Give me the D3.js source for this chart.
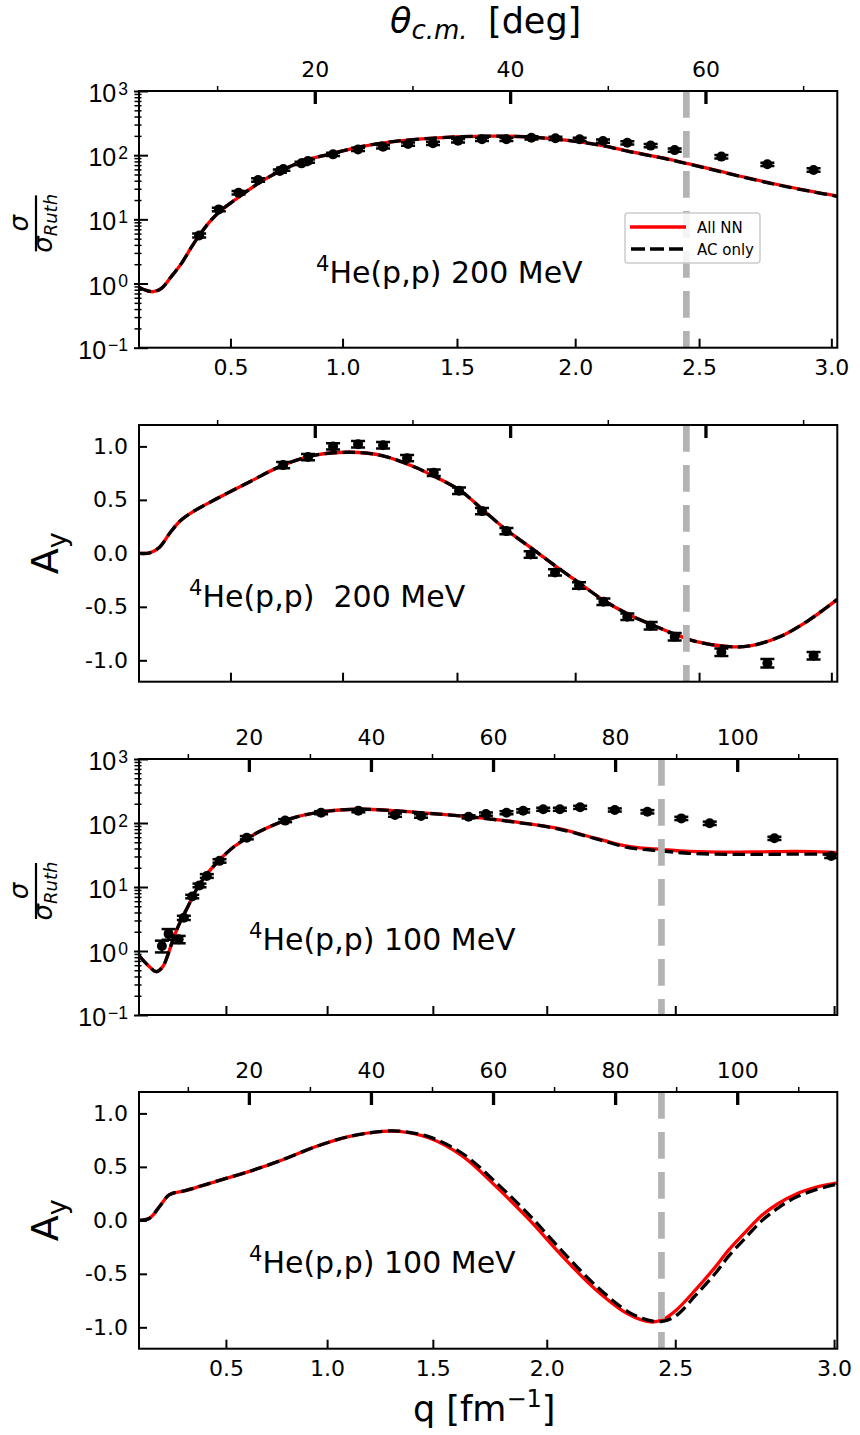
<!DOCTYPE html>
<html>
<head>
<meta charset="utf-8">
<script src="https://cdn.jsdelivr.net/npm/d3@7"></script>
<style>
  body { margin: 0; background: #fff; }
  svg { display: block; font-family: "DejaVu Sans", sans-serif; }
</style>
</head>
<body>
<svg id="chart" width="860" height="1435"></svg>
<script>
// Kinematics: q = 2k sin(theta/2), 2k in fm^-1
const twoK200 = 5.05;
const twoK100 = 3.54;
const qMarker = 2.45;

// Tick values
const qTicks = [0.5, 1.0, 1.5, 2.0, 2.5, 3.0];
const thetaMajor200 = [20, 40, 60];
const thetaMinor200 = [10, 30, 50, 70];
const thetaMajor100 = [20, 40, 60, 80, 100];
const thetaMinor100 = [10, 30, 50, 70, 90, 110];
const logTicks = [0.1, 1, 10, 100, 1000];
const ayTicks = [-1.0, -0.5, 0.0, 0.5, 1.0];

// 200 MeV cross section, theory [theta_cm (deg), sigma/sigma_Ruth]
const xs200AllNN = [
  [2.0, 0.86], [2.9, 0.77], [3.45, 0.745], [4.3, 0.84], [5.3, 1.28], [6.35, 2.06],
  [7.4, 3.75], [8.2, 5.7], [9.25, 9.2], [10.45, 14.0], [11.8, 20.0], [13.2, 28.6],
  [14.5, 38.6], [16.4, 56], [19.15, 84], [21.9, 107], [24.6, 135], [28.0, 163],
  [31.8, 183], [35.0, 194], [38.6, 198], [42.0, 192], [44.5, 180], [46.8, 164],
  [49.5, 141], [52.2, 115], [55.65, 90.4], [58.2, 73.8], [60.8, 59.5], [64.2, 44.6],
  [67.6, 34.3], [71.0, 27.0], [73.5, 23.1]
];
const xs200ACOnly = [
  [2.0, 0.86], [2.9, 0.77], [3.45, 0.745], [4.3, 0.84], [5.3, 1.28], [6.35, 2.06],
  [7.4, 3.75], [8.2, 5.7], [9.25, 9.2], [10.45, 14.0], [11.8, 20.0], [13.2, 28.6],
  [14.5, 38.6], [16.4, 56], [19.15, 84], [21.9, 107], [24.6, 135], [28.0, 163],
  [31.8, 183], [35.0, 194], [38.6, 198], [42.0, 192], [44.5, 179], [46.8, 163],
  [49.5, 140], [52.2, 114], [55.65, 89.6], [58.2, 73.2], [60.8, 59.0], [64.2, 44.2],
  [67.6, 34.0], [71.0, 26.8], [73.5, 22.9]
];
// 200 MeV cross section, data [theta_cm, value, error]
const xs200Data = [
  [8.16, 5.6, 0.4], [10.17, 14.3, 0.9], [12.19, 26, 1.6], [14.2, 41, 2.5],
  [16.42, 56.6, 3.4], [16.78, 60.8, 3.6], [18.64, 74.6, 4.5], [19.3, 81, 4.9],
  [21.87, 103, 6], [24.43, 123, 7], [26.99, 135, 8], [29.55, 149, 9],
  [32.1, 153, 9], [34.67, 168, 10], [37.12, 177, 10], [39.62, 177, 10],
  [42.18, 187, 11], [44.64, 183, 11], [47.12, 177, 10], [49.51, 166, 10],
  [52.0, 156, 9], [54.39, 141, 8], [56.85, 120, 7], [61.63, 95, 6],
  [66.34, 72, 4], [71.07, 58.8, 3.5]
];

// 200 MeV analyzing power, theory [theta_cm, A_y]
const ay200AllNN = [
  [2.0, 0.0], [3.11, 0.005], [4.13, 0.06], [5.16, 0.19], [6.18, 0.30], [7.54, 0.39],
  [9.94, 0.51], [13.35, 0.67], [16.76, 0.825], [20.17, 0.92], [23.58, 0.945],
  [26.99, 0.912], [30.41, 0.80], [31.77, 0.74], [34.85, 0.59], [37.23, 0.405],
  [39.63, 0.218], [42.01, 0.06], [44.75, -0.125], [47.13, -0.28], [49.52, -0.436],
  [52.25, -0.577], [54.3, -0.66], [56.85, -0.754], [59.08, -0.826], [62.48, -0.873],
  [64.53, -0.866], [67.6, -0.78], [70.34, -0.64], [73.5, -0.43]
];
const ay200ACOnly = [
  [2.0, 0.0], [3.11, 0.005], [4.13, 0.06], [5.16, 0.19], [6.18, 0.30], [7.54, 0.39],
  [9.94, 0.51], [13.35, 0.67], [16.76, 0.825], [20.17, 0.92], [23.58, 0.945],
  [26.99, 0.912], [30.41, 0.80], [31.77, 0.74], [34.85, 0.59], [37.23, 0.405],
  [39.63, 0.218], [42.01, 0.06], [44.75, -0.125], [47.13, -0.28], [49.52, -0.436],
  [52.25, -0.577], [54.3, -0.66], [56.85, -0.754], [59.08, -0.826], [62.48, -0.873],
  [64.53, -0.866], [67.6, -0.78], [70.34, -0.64], [73.5, -0.43]
];
// 200 MeV analyzing power, data [theta_cm, A_y, error]
const ay200Data = [
  [16.76, 0.825, 0.03], [19.31, 0.90, 0.03], [21.87, 1.0, 0.03], [24.43, 1.02, 0.03],
  [26.99, 1.01, 0.03], [29.45, 0.89, 0.03], [32.18, 0.753, 0.03], [34.77, 0.585, 0.03],
  [37.12, 0.395, 0.03], [39.62, 0.208, 0.03], [42.1, -0.01, 0.03], [44.6, -0.178, 0.03],
  [47.05, -0.30, 0.03], [49.55, -0.452, 0.03], [52.0, -0.592, 0.03], [54.39, -0.676, 0.035],
  [56.85, -0.78, 0.035], [61.63, -0.925, 0.035], [66.34, -1.028, 0.04], [71.07, -0.957, 0.035]
];

// 100 MeV cross section, theory [theta_cm, sigma/sigma_Ruth]
const xs100AllNN = [
  [2.0, 0.85], [3.45, 0.60], [4.83, 0.475], [5.9, 0.57], [6.73, 0.87], [7.55, 1.49],
  [8.64, 2.7], [10.0, 4.92], [11.37, 8.98], [13.0, 15.4], [14.9, 24.8], [16.3, 33.6],
  [17.6, 43], [20.1, 61], [26.1, 111], [32.1, 150], [38.1, 164], [43.6, 156],
  [49.6, 141], [56.2, 125], [63.3, 105], [70.4, 83], [76.9, 57.6], [82.4, 42.6],
  [87.8, 38.5], [92.2, 36.0], [98.8, 35.0], [104.2, 35.5], [109.7, 36.0], [115.1, 35.0],
  [116.4, 34.5]
];
const xs100ACOnly = [
  [2.0, 0.85], [3.45, 0.60], [4.83, 0.475], [5.9, 0.57], [6.73, 0.87], [7.55, 1.49],
  [8.64, 2.7], [10.0, 4.92], [11.37, 8.98], [13.0, 15.4], [14.9, 24.8], [16.3, 33.6],
  [17.6, 43], [20.1, 61], [26.1, 111], [32.1, 150], [38.1, 164], [43.6, 156],
  [49.6, 141], [56.2, 125], [63.3, 104], [70.4, 82], [76.9, 56.5], [82.4, 41.0],
  [87.8, 36.5], [92.2, 33.6], [98.8, 32.4], [104.2, 32.4], [109.7, 32.6], [115.1, 32.4],
  [116.4, 32.0]
];
// 100 MeV cross section, data [theta_cm, value, error]
const xs100Data = [
  [5.75, 1.2, 0.25], [6.85, 1.85, 0.35], [8.5, 1.52, 0.2], [9.35, 3.3, 0.25],
  [10.72, 7.1, 0.45], [11.91, 10.6, 0.7], [13.11, 14.9, 1.0], [15.19, 25.6, 1.6],
  [19.66, 59, 3.5], [25.94, 109, 6], [31.83, 145, 8], [37.94, 156, 9],
  [43.94, 133, 8], [48.2, 129, 8], [55.99, 125, 7], [58.84, 138, 8],
  [62.21, 145, 8], [64.94, 155, 9], [68.22, 164, 9], [70.95, 164, 9],
  [74.27, 176, 10], [79.95, 160, 9], [85.29, 150, 9], [90.85, 118, 7],
  [95.5, 99, 6], [106.1, 57.6, 3.5], [115.4, 30.5, 2]
];

// 100 MeV analyzing power, theory [theta_cm, A_y]
const ay100AllNN = [
  [2.0, 0.0], [3.73, 0.02], [5.37, 0.13], [7.0, 0.24], [9.74, 0.28], [14.65, 0.365],
  [20.1, 0.458], [25.55, 0.567], [31.0, 0.69], [36.47, 0.785], [41.9, 0.832],
  [44.65, 0.832], [49.56, 0.77], [55.0, 0.6], [60.47, 0.318], [65.92, 0.006],
  [71.37, -0.336], [76.84, -0.648], [82.29, -0.881], [85.8, -0.95], [87.74, -0.93],
  [90.0, -0.84], [93.2, -0.648], [96.5, -0.43], [98.66, -0.274], [101.5, -0.10],
  [104.1, 0.05], [106.8, 0.16], [109.6, 0.245], [113.0, 0.31], [116.4, 0.35]
];
const ay100ACOnly = [
  [2.0, 0.0], [3.73, 0.02], [5.37, 0.13], [7.0, 0.24], [9.74, 0.28], [14.65, 0.365],
  [20.1, 0.458], [25.55, 0.567], [31.0, 0.69], [36.47, 0.785], [41.9, 0.832],
  [44.65, 0.834], [49.56, 0.78], [55.0, 0.625], [60.47, 0.355], [65.92, 0.05],
  [71.37, -0.29], [76.84, -0.61], [82.29, -0.86], [85.56, -0.935], [87.74, -0.945],
  [90.0, -0.89], [93.2, -0.70], [96.5, -0.49], [98.66, -0.33], [101.5, -0.155],
  [104.1, 0.0], [106.8, 0.12], [109.6, 0.215], [113.0, 0.29], [116.4, 0.34]
];

const seriesNames = ["All NN", "AC only"];
const reactionLabels = ["200 MeV", "100 MeV"];

// ---------------------------------------------------------------
const svg = d3.select("#chart");
const left = 139, right = 837.3;
const qToTheta = (q, twoK) => 2 * Math.asin(q / twoK) * 180 / Math.PI;

const panels = [
  { top: 91, bottom: 347.7, twoK: twoK200, thetaDomain: [2, 73.5], major: thetaMajor200, minor: thetaMinor200,
    log: true, topLabels: true, bottomLabels: true,
    curves: [xs200AllNN, xs200ACOnly], data: xs200Data,
    text: { x: 316, y: 283, energy: reactionLabels[0], gap: " " }, legend: true },
  { top: 425, bottom: 681.7, twoK: twoK200, thetaDomain: [2, 73.5], major: thetaMajor200, minor: thetaMinor200,
    log: false, topLabels: false, bottomLabels: false,
    curves: [ay200AllNN, ay200ACOnly], data: ay200Data,
    text: { x: 189, y: 607, energy: reactionLabels[0], gap: "\u00a0\u00a0" } },
  { top: 759, bottom: 1015, twoK: twoK100, thetaDomain: [2, 116.4], major: thetaMajor100, minor: thetaMinor100,
    log: true, topLabels: true, bottomLabels: false,
    curves: [xs100AllNN, xs100ACOnly], data: xs100Data,
    text: { x: 249, y: 950, energy: reactionLabels[1], gap: " " } },
  { top: 1092, bottom: 1348.7, twoK: twoK100, thetaDomain: [2, 116.4], major: thetaMajor100, minor: thetaMinor100,
    log: false, topLabels: true, bottomLabels: true,
    curves: [ay100AllNN, ay100ACOnly], data: null,
    text: { x: 249, y: 1273, energy: reactionLabels[1], gap: " " } }
];

const tickFont = 22;

panels.forEach((p, i) => {
  const x = d3.scaleLinear().domain(p.thetaDomain).range([left, right]);
  const y = p.log
    ? d3.scaleLog().domain([0.1, 1000]).range([p.bottom, p.top])
    : d3.scaleLinear().domain([-1.2, 1.2]).range([p.bottom, p.top]);

  const g = svg.append("g");
  const clipId = "clip" + i;
  svg.append("clipPath").attr("id", clipId).append("rect")
    .attr("x", left).attr("y", p.top).attr("width", right - left).attr("height", p.bottom - p.top);

  // theory curves
  const line = d3.line().x(d => x(d[0])).y(d => y(d[1])).curve(d3.curveCatmullRom.alpha(0.5));
  const plot = g.append("g").attr("clip-path", `url(#${clipId})`);
  plot.append("path").datum(p.curves[0]).attr("d", line)
    .attr("fill", "none").attr("stroke", "#ff0000").attr("stroke-width", 3.3);
  plot.append("path").datum(p.curves[1]).attr("d", line)
    .attr("fill", "none").attr("stroke", "#000").attr("stroke-width", 3.3)
    .attr("stroke-dasharray", "12.5,5.5");

  // q = 2.45 fm^-1 marker
  const xm = x(qToTheta(qMarker, p.twoK));
  plot.append("line").attr("x1", xm).attr("x2", xm).attr("y1", p.top).attr("y2", p.bottom)
    .attr("stroke", "#b3b3b3").attr("stroke-width", 6.7).attr("stroke-dasharray", "26.7,13.3");

  // data with error bars
  if (p.data) {
    const pts = plot.append("g").selectAll("g").data(p.data).join("g");
    pts.append("line").attr("x1", d => x(d[0])).attr("x2", d => x(d[0]))
      .attr("y1", d => y(d[1] - d[2])).attr("y2", d => y(d[1] + d[2]))
      .attr("stroke", "#000").attr("stroke-width", 2.5);
    [-1, 1].forEach(s => {
      pts.append("line").attr("x1", d => x(d[0]) - 7).attr("x2", d => x(d[0]) + 7)
        .attr("y1", d => y(d[1] + s * d[2])).attr("y2", d => y(d[1] + s * d[2]))
        .attr("stroke", "#000").attr("stroke-width", 2.5);
    });
    pts.append("circle").attr("cx", d => x(d[0])).attr("cy", d => y(d[1])).attr("r", 5).attr("fill", "#000");
  }

  // bottom q axis (inward ticks)
  const qAxis = d3.axisBottom(x)
    .tickValues(qTicks.map(q => qToTheta(q, p.twoK)))
    .tickFormat(t => p.bottomLabels ? (p.twoK * Math.sin(t * Math.PI / 360)).toFixed(1) : "")
    .tickSize(-9).tickPadding(12);
  const gb = g.append("g").attr("transform", `translate(0,${p.bottom})`).call(qAxis);
  gb.select(".domain").remove();
  gb.selectAll(".tick line").attr("stroke-width", 2);
  gb.selectAll("text").attr("font-size", tickFont).attr("fill", "#000").attr("font-family", "DejaVu Sans");

  // top theta axis: thick inward major ticks, thin outward minor ticks
  const tMajor = d3.axisTop(x).tickValues(p.major)
    .tickFormat(d => p.topLabels ? d : "").tickSize(-13).tickPadding(14);
  const gt = g.append("g").attr("transform", `translate(0,${p.top})`).call(tMajor);
  gt.select(".domain").remove();
  gt.selectAll(".tick line").attr("stroke-width", 3.3);
  gt.selectAll("text").attr("font-size", tickFont).attr("fill", "#000").attr("font-family", "DejaVu Sans");
  const tMinor = d3.axisTop(x).tickValues(p.minor).tickFormat("").tickSize(5);
  const gtm = g.append("g").attr("transform", `translate(0,${p.top})`).call(tMinor);
  gtm.select(".domain").remove();
  gtm.selectAll(".tick line").attr("stroke-width", 1.5);

  // left axis
  if (p.log) {
    const minors = [];
    for (let e = -1; e < 3; e++) for (let k = 2; k <= 9; k++) minors.push(k * Math.pow(10, e));
    const yMinOut = d3.axisLeft(y).tickValues(minors).tickFormat("").tickSize(4.5);
    const gmo = g.append("g").attr("transform", `translate(${left},0)`).call(yMinOut);
    gmo.select(".domain").remove();
    gmo.selectAll(".tick line").attr("stroke-width", 1.5);
    const yMinIn = d3.axisLeft(y).tickValues(minors).tickFormat("").tickSize(-2.5);
    const gmi = g.append("g").attr("transform", `translate(${left},0)`).call(yMinIn);
    gmi.select(".domain").remove();
    gmi.selectAll(".tick line").attr("stroke-width", 1.5);
    const yMajIn = d3.axisLeft(y).tickValues(logTicks).tickFormat("").tickSize(-9);
    const gmj = g.append("g").attr("transform", `translate(${left},0)`).call(yMajIn);
    gmj.select(".domain").remove();
    gmj.selectAll(".tick line").attr("stroke-width", 2);
    const yMajOut = d3.axisLeft(y).tickValues(logTicks).tickSize(5).tickFormat("");
    const gy = g.append("g").attr("transform", `translate(${left},0)`).call(yMajOut);
    gy.select(".domain").remove();
    gy.selectAll(".tick line").attr("stroke-width", 2);
    gy.selectAll(".tick").append("text")
      .attr("x", -11).attr("dy", "0.42em").attr("text-anchor", "end")
      .attr("font-size", 25).attr("fill", "#000")
      .each(function (d) {
        const t = d3.select(this);
        t.append("tspan").text("10");
        t.append("tspan").attr("dx", 2).attr("dy", "-0.42em").attr("font-size", 17.5)
          .text(String(Math.round(Math.log10(d))).replace("-", "\u2212"));
      });
  } else {
    const yAx = d3.axisLeft(y).tickValues(ayTicks).tickFormat(d => d.toFixed(1))
      .tickSize(-8).tickPadding(11);
    const gy = g.append("g").attr("transform", `translate(${left},0)`).call(yAx);
    gy.select(".domain").remove();
    gy.selectAll(".tick line").attr("stroke-width", 2);
    gy.selectAll("text").attr("font-size", tickFont).attr("fill", "#000").attr("font-family", "DejaVu Sans");
  }

  // frame
  g.append("rect").attr("x", left).attr("y", p.top).attr("width", right - left).attr("height", p.bottom - p.top)
    .attr("fill", "none").attr("stroke", "#000").attr("stroke-width", 2);

  // reaction label
  const lab = g.append("text").attr("x", p.text.x).attr("y", p.text.y).attr("font-size", 30).attr("fill", "#000");
  lab.append("tspan").attr("font-size", 21).attr("dy", "-0.55em").text("4");
  lab.append("tspan").attr("dy", "0.385em").text("He(p,p)" + p.text.gap + p.text.energy);

  // y label
  const cy = (p.top + p.bottom) / 2;
  if (p.log) {
    const yl = g.append("g").attr("transform", `translate(36,${cy + 4}) rotate(-90)`);
    yl.append("text").attr("x", 0).attr("y", -8).attr("text-anchor", "middle")
      .attr("font-size", 26).attr("font-style", "italic").text("σ");
    yl.append("line").attr("x1", -28).attr("x2", 28).attr("y1", 0).attr("y2", 0)
      .attr("stroke", "#000").attr("stroke-width", 2.2);
    const den = yl.append("text").attr("x", 0).attr("y", 16).attr("text-anchor", "middle")
      .attr("font-size", 26).attr("font-style", "italic");
    den.append("tspan").text("σ");
    den.append("tspan").attr("font-size", 18).attr("dy", 5).text("Ruth");
  } else {
    const yl = g.append("text").attr("transform", `translate(58,${cy}) rotate(-90)`)
      .attr("text-anchor", "middle").attr("font-size", 38).attr("fill", "#000");
    yl.append("tspan").text("A");
    yl.append("tspan").attr("font-size", 27).attr("dy", 8).text("y");
  }

  // legend
  if (p.legend) {
    const lg = g.append("g");
    lg.append("rect").attr("x", 625).attr("y", 213).attr("width", 135).attr("height", 50).attr("rx", 3)
      .attr("fill", "#fff").attr("fill-opacity", 0.85).attr("stroke", "#cccccc").attr("stroke-width", 1.5);
    lg.append("line").attr("x1", 630).attr("x2", 686).attr("y1", 227).attr("y2", 227)
      .attr("stroke", "#ff0000").attr("stroke-width", 3.3);
    lg.append("line").attr("x1", 631).attr("x2", 686).attr("y1", 249).attr("y2", 249)
      .attr("stroke", "#000").attr("stroke-width", 3.3).attr("stroke-dasharray", "14,5");
    lg.append("text").attr("x", 697).attr("y", 232.5).attr("font-size", 15).text(seriesNames[0]);
    lg.append("text").attr("x", 697).attr("y", 254.5).attr("font-size", 15).text(seriesNames[1]);
  }
});

// top title: theta_c.m. [deg]
const title = svg.append("text").attr("x", 390).attr("y", 33).attr("font-size", 35);
title.append("tspan").attr("font-style", "italic").text("θ");
title.append("tspan").attr("font-style", "italic").attr("font-size", 26).attr("dy", 6).text("c.m.");
title.append("tspan").attr("x", 488).attr("dy", -6).text("[deg]");

// bottom axis title: q [fm^-1]
const xt = svg.append("text").attr("x", 413).attr("y", 1421).attr("font-size", 35);
xt.append("tspan").text("q [fm");
xt.append("tspan").attr("font-size", 24).attr("dy", -14).text("\u22121");
xt.append("tspan").attr("dy", 14).text("]");
</script>
</body>
</html>
